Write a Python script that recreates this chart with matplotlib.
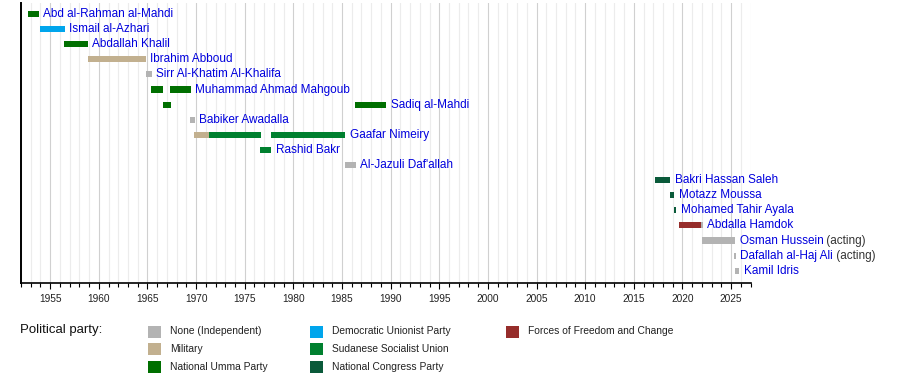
import matplotlib
matplotlib.use("Agg")
import matplotlib.pyplot as plt
from matplotlib.patches import Rectangle
from matplotlib.ticker import MultipleLocator

plt.rcParams['font.family'] = ['Liberation Sans', 'DejaVu Sans']

# Prime ministers, one row each (top to bottom)
names = [
    "Abd al-Rahman al-Mahdi", "Ismail al-Azhari", "Abdallah Khalil",
    "Ibrahim Abboud", "Sirr Al-Khatim Al-Khalifa", "Muhammad Ahmad Mahgoub",
    "Sadiq al-Mahdi", "Babiker Awadalla", "Gaafar Nimeiry", "Rashid Bakr",
    "Al-Jazuli Daf'allah", "Bakri Hassan Saleh", "Motazz Moussa",
    "Mohamed Tahir Ayala", "Abdalla Hamdok", "Osman Hussein",
    "Dafallah al-Haj Ali", "Kamil Idris",
]
acting = [False] * 15 + [True, True, False]

# terms: (row, start, end, party)
term_rows = [0, 1, 2, 3, 4, 5, 5, 6, 6, 7, 8, 8, 8, 9, 10,
             11, 12, 13, 14, 14, 15, 16, 17]
term_start = [1952.71, 1953.94, 1956.45, 1958.85, 1964.80, 1965.40, 1967.35,
              1966.55, 1986.33, 1969.37, 1969.80, 1971.35, 1977.70, 1976.60,
              1985.31, 2017.19, 2018.75, 2019.15, 2019.66, 2021.92, 2022.05,
              2025.30, 2025.42]
term_end = [1953.81, 1956.48, 1958.85, 1964.80, 1965.42, 1966.57, 1969.45,
            1967.40, 1989.52, 1969.85, 1971.35, 1976.65, 1985.31, 1977.75,
            1986.40, 2018.75, 2019.15, 2019.35, 2021.92, 2022.10, 2025.40,
            2025.50, 2025.82]
term_party = ["NUP", "DUP", "NUP", "MIL", "IND", "NUP", "NUP", "NUP", "NUP",
              "IND", "MIL", "SSU", "SSU", "SSU", "IND", "NCP", "NCP", "NCP",
              "FFC", "IND", "IND", "IND", "IND"]

party_keys = ["IND", "MIL", "NUP", "DUP", "SSU", "NCP", "FFC"]
party_names = ["None (Independent)", "Military", "National Umma Party",
               "Democratic Unionist Party", "Sudanese Socialist Union",
               "National Congress Party", "Forces of Freedom and Change"]
party_colors = ["#b3b3b3", "#c2b08f", "#006f00", "#00a5ec", "#00802f",
                "#0a5a3a", "#962d2b"]
colors = dict(zip(party_keys, party_colors))

W, H = 900, 382
fig = plt.figure(figsize=(W / 100, H / 100), dpi=100)
ax = fig.add_axes([21 / W, (H - 282.5) / H, (750.5 - 21) / W, (282.5 - 3) / H])

nrows = len(names)
ax.set_xlim(1952, 2027)
ax.set_ylim(17.78, -0.728)

ax.xaxis.set_major_locator(MultipleLocator(5))
ax.xaxis.set_minor_locator(MultipleLocator(1))
ax.grid(True, which='major', axis='x', color='#d0d0d0', lw=0.8, zorder=0)
ax.grid(True, which='minor', axis='x', color='#ececec', lw=0.8, zorder=0)
ax.set_axisbelow(True)
ax.set_yticks([])
for s in ['top', 'right']:
    ax.spines[s].set_visible(False)
ax.spines['left'].set_linewidth(1.4)
ax.spines['bottom'].set_linewidth(1.2)
ax.tick_params(axis='x', which='major', length=4, width=0.8, labelsize=7.3,
               pad=4, labelcolor='#222222')
ax.tick_params(axis='x', which='minor', length=3, width=0.8)

bar_h = 0.4
last_end = {}
for r, s, e, p in zip(term_rows, term_start, term_end, term_party):
    ax.barh(r, e - s, left=s, height=bar_h, color=colors[p], lw=0, zorder=3)
    last_end[r] = max(last_end.get(r, 0), e)

for i, name in enumerate(names):
    t = ax.annotate(name, xy=(last_end[i], i), xytext=(3.3, 0),
                    textcoords='offset points', va='center', ha='left',
                    fontsize=8.5, color='#0000dd')
    if acting[i]:
        ax.annotate(" (acting)", xy=(1, 0.5), xycoords=t, va='center',
                    ha='left', fontsize=8.5, color='#333333')

# legend
fig.text(20 / W, 1 - 330 / H, "Political party:", fontsize=9.5,
         va='center', ha='left', color='#111111')
col_x = [148, 310, 506]
row_y = [331.5, 349, 366.5]
for k, (label, c) in enumerate(zip(party_names, party_colors)):
    cx = col_x[k // 3]
    cy = row_y[k % 3]
    fig.add_artist(Rectangle(((cx) / W, 1 - (cy + 6) / H), 13 / W, 12 / H,
                             transform=fig.transFigure, color=c, lw=0))
    fig.text((cx + 22) / W, 1 - cy / H, label, fontsize=7.4, va='center',
             ha='left', color='#222222')

fig.savefig("out.png", dpi=100)
